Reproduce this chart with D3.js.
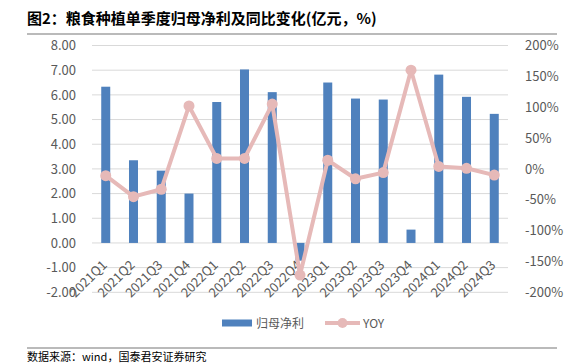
<!DOCTYPE html>
<html>
<head>
<meta charset="utf-8">
<title>粮食种植单季度归母净利及同比变化</title>
<script src="https://d3js.org/d3.v7.min.js"></script>
<style>
  body { margin: 0; background: #fff; }
  text { font-family: "Noto Sans CJK SC", "Noto Sans", sans-serif; }
</style>
</head>
<body>
<script>
// データ
var quarters = ["2021Q1","2021Q2","2021Q3","2021Q4","2022Q1","2022Q2","2022Q3","2022Q4",
                "2023Q1","2023Q2","2023Q3","2023Q4","2024Q1","2024Q2","2024Q3"];
var profit = [6.33, 3.35, 2.93, 2.00, 5.71, 7.03, 6.11, -0.72, 6.50, 5.85, 5.81, 0.54, 6.82, 5.92, 5.23];
var yoy = [-11, -45, -33, 102, 17, 17, 105, -172, 14, -16, -6, 160, 4, 1, -10];
var leftTicks = [-2, -1, 0, 1, 2, 3, 4, 5, 6, 7, 8];
var rightTicks = [-200, -150, -100, -50, 0, 50, 100, 150, 200];

var width = 584, height = 363;
var plotL = 92, plotR = 508, plotT = 45.5, plotB = 292.3;

var svg = d3.select("body").append("svg").attr("width", width).attr("height", height);

// タイトル
svg.append("text").attr("x", 27).attr("y", 24)
  .attr("font-size", 15).attr("font-weight", "bold").attr("fill", "#000")
  .text("图2：粮食种植单季度归母净利及同比变化(亿元，%)");
svg.append("line").attr("x1", 27).attr("x2", 557).attr("y1", 34).attr("y2", 34)
  .attr("stroke", "#777").attr("stroke-width", 1.2);

// スケール
var x = d3.scaleBand().domain(quarters).range([plotL, plotR]).paddingInner(0.67).paddingOuter(0.33);
var yL = d3.scaleLinear().domain([-2, 8]).range([plotB, plotT]);
var yR = d3.scaleLinear().domain([-200, 200]).range([plotB, plotT]);

// グリッド
svg.append("g").selectAll("line").data(leftTicks).enter().append("line")
  .attr("x1", plotL).attr("x2", plotR)
  .attr("y1", function(d) { return yL(d); }).attr("y2", function(d) { return yL(d); })
  .attr("stroke", "#d9d9d9").attr("stroke-width", 1);

// 左軸
var axL = svg.append("g").attr("transform", "translate(" + (plotL - 13) + ",0)")
  .call(d3.axisLeft(yL).tickValues(leftTicks).tickFormat(function(d) { return d.toFixed(2); }).tickSize(0));
axL.select(".domain").remove();
axL.selectAll("text").attr("font-size", 13).attr("fill", "#595959")
  .attr("font-family", "'Open Sans', 'Noto Sans', sans-serif");

// 右軸
var axR = svg.append("g").attr("transform", "translate(" + (plotR + 14) + ",0)")
  .call(d3.axisRight(yR).tickValues(rightTicks).tickFormat(function(d) { return d + "%"; }).tickSize(0));
axR.select(".domain").remove();
axR.selectAll("text").attr("font-size", 13).attr("fill", "#595959")
  .attr("font-family", "'Open Sans', 'Noto Sans', sans-serif");

// バー
var bw = 9;
svg.append("g").selectAll("rect").data(profit).enter().append("rect")
  .attr("x", function(d, i) { return x(quarters[i]) + x.bandwidth() / 2 - bw / 2; })
  .attr("y", function(d) { return yL(Math.max(0, d)); })
  .attr("width", bw)
  .attr("height", function(d) { return Math.abs(yL(d) - yL(0)); })
  .attr("fill", "#4f81bd");

// X軸ラベル
svg.append("g").selectAll("text").data(quarters).enter().append("text")
  .attr("transform", function(d) {
    return "translate(" + (x(d) + x.bandwidth() / 2 + 2) + "," + (yL(0) + 23) + ") rotate(-45)";
  })
  .attr("text-anchor", "end").attr("font-size", 13).attr("fill", "#595959")
  .attr("font-family", "'Open Sans', 'Noto Sans', sans-serif")
  .text(function(d) { return d; });

// 折れ線
var cx = function(d, i) { return x(quarters[i]) + x.bandwidth() / 2; };
var line = d3.line().x(cx).y(function(d) { return yR(d); });
svg.append("path").datum(yoy).attr("d", line)
  .attr("fill", "none").attr("stroke", "#e6b9b8").attr("stroke-width", 4).attr("stroke-linejoin", "round");
svg.append("g").selectAll("circle").data(yoy).enter().append("circle")
  .attr("cx", cx).attr("cy", function(d) { return yR(d); }).attr("r", 5.5).attr("fill", "#e6b9b8");

// 凡例
var lg = svg.append("g").attr("transform", "translate(0,323)");
lg.append("rect").attr("x", 222).attr("y", -3.5).attr("width", 30).attr("height", 7).attr("fill", "#4f81bd");
lg.append("text").attr("x", 256).attr("y", 5).attr("font-size", 12).attr("fill", "#595959").text("归母净利");
lg.append("line").attr("x1", 325).attr("x2", 360).attr("y1", 0).attr("y2", 0).attr("stroke", "#e6b9b8").attr("stroke-width", 4);
lg.append("circle").attr("cx", 342.5).attr("cy", 0).attr("r", 5).attr("fill", "#e6b9b8");
lg.append("text").attr("x", 363).attr("y", 5).attr("font-size", 12).attr("fill", "#595959")
  .attr("font-family", "'Open Sans', 'Noto Sans', sans-serif").text("YOY");

// 出典
svg.append("line").attr("x1", 27).attr("x2", 557).attr("y1", 348).attr("y2", 348)
  .attr("stroke", "#777").attr("stroke-width", 1.2);
svg.append("text").attr("x", 27).attr("y", 361).attr("font-size", 11).attr("fill", "#000")
  .text("数据来源：wind，国泰君安证券研究");
</script>
</body>
</html>
